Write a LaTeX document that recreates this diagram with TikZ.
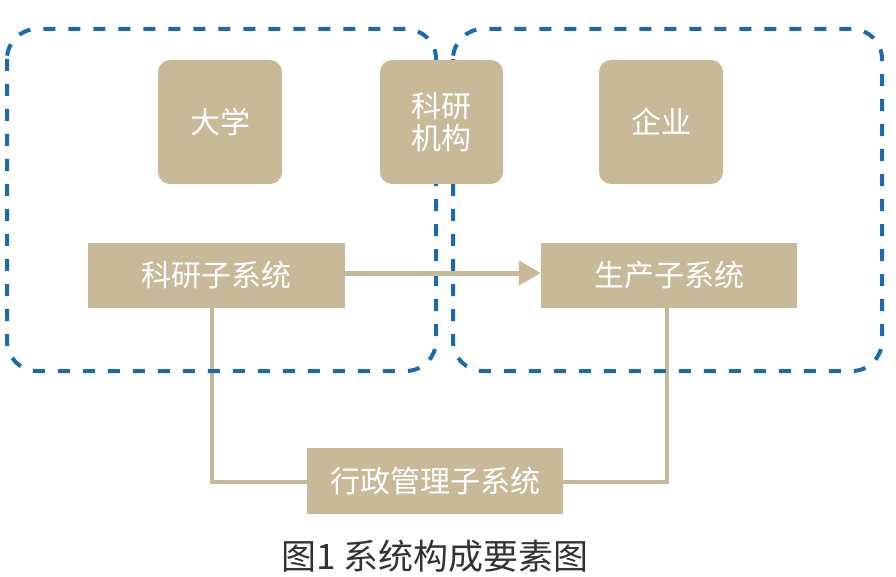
\documentclass[tikz,border=0pt]{standalone}
\usepackage{fontspec}
\newfontfamily\cjk{Noto Sans CJK SC}
\usetikzlibrary{arrows.meta}
\definecolor{boxc}{HTML}{C8BA99}
\definecolor{dashc}{HTML}{1A6AB2}
\begin{document}
\begin{tikzpicture}[x=1pt,y=-1pt,
  rbox/.style={fill=boxc, rounded corners=12pt, text=white, inner sep=0pt,
    minimum width=124pt, minimum height=124pt, align=center,
    font=\cjk\fontsize{30}{32}\selectfont},
  sbox/.style={fill=boxc, text=white, inner sep=0pt,
    minimum width=257pt, minimum height=65pt,
    font=\cjk\fontsize{30}{32}\selectfont},
  conn/.style={draw=boxc, line width=4pt},
  arrowline/.style={draw=boxc, line width=5pt, -{Triangle[length=22pt,width=24pt]}},
  dashbox/.style={draw=dashc, line width=4pt, rounded corners=30pt, dash pattern=on 12pt off 13pt}
]
\useasboundingbox (0,0) rectangle (896,577);
\coordinate (kyc) at (216.5,275.5);
\coordinate (scc) at (669,275.5);
\coordinate (xzc) at (435,481);
\coordinate (kyb) at (212,308);
\coordinate (scb) at (667,308);
\coordinate (xzl) at (307,482);
\coordinate (xzr) at (563,482);
% connectors
\draw[conn] (kyb) |- (xzl);
\draw[conn] (scb) |- (xzr);
% dashed boundaries
\draw[dashbox] (7,29) rectangle (436,371);
\draw[dashbox] (453,29) rectangle (882,371);
% boxes
\node[rbox] (dx) at (220,122) {大学};
\node[rbox, minimum width=123pt] (kj) at (441.5,122) {科研\\机构};
\node[rbox] (qy) at (661,122) {企业};
\node[sbox] (ky) at (kyc) {科研子系统};
\node[sbox, minimum width=256pt] (sc) at (scc) {生产子系统};
\node[sbox, minimum width=256pt, minimum height=66pt] (xz) at (xzc) {行政管理子系统};
\draw[arrowline] ([yshift=2.5pt]ky.east) -- ([yshift=2.5pt]sc.west);
\node[font=\cjk\fontsize{35}{35}\selectfont, text=black!80] (cap) at (435,556) {图1 系统构成要素图};
\end{tikzpicture}
\end{document}
